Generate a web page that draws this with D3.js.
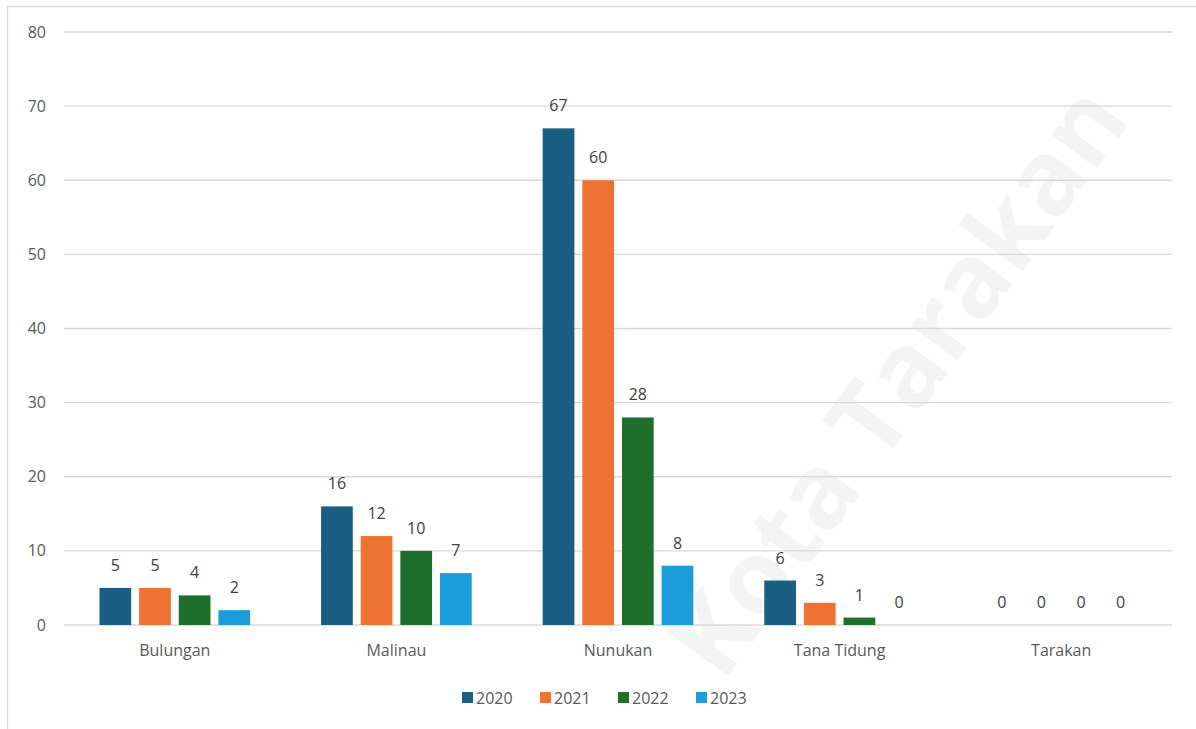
<!DOCTYPE html>
<html lang="en">
<head>
<meta charset="utf-8">
<title>Kalimantan Utara</title>
<script src="https://cdn.jsdelivr.net/npm/d3@7/dist/d3.min.js"></script>
<style>
  body { margin: 0; background: #fff; }
  text { font-family: "Open Sans", "DejaVu Sans", sans-serif; }
</style>
</head>
<body>
<script>
// data
var regions = ["Bulungan", "Malinau", "Nunukan", "Tana Tidung", "Tarakan"];
var years = ["2020", "2021", "2022", "2023"];
var v2020 = [5, 16, 67, 6, 0];
var v2021 = [5, 12, 60, 3, 0];
var v2022 = [4, 10, 28, 1, 0];
var v2023 = [2, 7, 8, 0, 0];
var yTicks = [0, 10, 20, 30, 40, 50, 60, 70, 80];
var colors = ["#1a5e84", "#ec7331", "#1e6e2c", "#1a9dd9"];

var series = [v2020, v2021, v2022, v2023];

var w = 1196, h = 729;
var margin = {left: 64, right: 24, top: 32, bottom: 104};

var svg = d3.select("body").append("svg")
  .attr("width", w).attr("height", h);

// outer frame
svg.append("rect")
  .attr("x", 7.5).attr("y", 6.5)
  .attr("width", w - 4).attr("height", h)
  .attr("fill", "none").attr("stroke", "#d9d9d9").attr("stroke-width", 1.5);

var x0 = d3.scaleBand().domain(regions)
  .range([margin.left, w - margin.right]).paddingInner(0.32).paddingOuter(0.16);
var x1 = d3.scaleBand().domain(years)
  .range([0, x0.bandwidth()]).paddingInner(0.2);
var y = d3.scaleLinear().domain([0, 80]).range([h - margin.bottom, margin.top]);

// watermark
svg.append("text")
  .attr("transform", "translate(905,385) rotate(-54)")
  .attr("text-anchor", "middle").attr("dominant-baseline", "middle")
  .style("font-size", "104px").style("font-weight", "bold")
  .attr("fill", "#000").attr("fill-opacity", 0.045)
  .text("Kota Tarakan");

// grid
svg.append("g").selectAll("line").data(yTicks).join("line")
  .attr("x1", margin.left).attr("x2", w - margin.right)
  .attr("y1", function(d) { return y(d); }).attr("y2", function(d) { return y(d); })
  .attr("stroke", "#d9d9d9").attr("stroke-width", 1.3);

svg.append("g").selectAll("text").data(yTicks).join("text")
  .attr("x", 46).attr("y", function(d) { return y(d); })
  .attr("text-anchor", "end").attr("dy", "0.35em")
  .attr("fill", "#595959").style("font-size", "16px")
  .text(function(d) { return d; });

// bars
var groups = svg.append("g").selectAll("g").data(regions).join("g")
  .attr("transform", function(d) { return "translate(" + x0(d) + ",0)"; });

groups.each(function(r, i) {
  var g = d3.select(this);
  years.forEach(function(yr, k) {
    var val = series[k][i];
    g.append("rect")
      .attr("x", x1(yr)).attr("width", x1.bandwidth())
      .attr("y", y(val)).attr("height", y(0) - y(val))
      .attr("fill", colors[k]);
    g.append("text")
      .attr("x", x1(yr) + x1.bandwidth() / 2).attr("y", y(val) - 17)
      .attr("text-anchor", "middle")
      .attr("fill", "#404040").style("font-size", "16px")
      .text(val);
  });
});

// category labels
svg.append("g").selectAll("text").data(regions).join("text")
  .attr("x", function(d) { return x0(d) + x0.bandwidth() / 2; })
  .attr("y", y(0) + 31)
  .attr("text-anchor", "middle")
  .attr("fill", "#595959").style("font-size", "16px")
  .text(function(d) { return d; });

// legend
var leg = svg.append("g").attr("transform", "translate(462,698)");
years.forEach(function(yr, k) {
  var lx = k * 78;
  leg.append("rect").attr("x", lx).attr("y", -6).attr("width", 11).attr("height", 11)
    .attr("fill", colors[k]);
  leg.append("text").attr("x", lx + 14).attr("y", 0).attr("dy", "0.35em")
    .attr("fill", "#595959").style("font-size", "16px")
    .text(yr);
});
</script>
</body>
</html>
